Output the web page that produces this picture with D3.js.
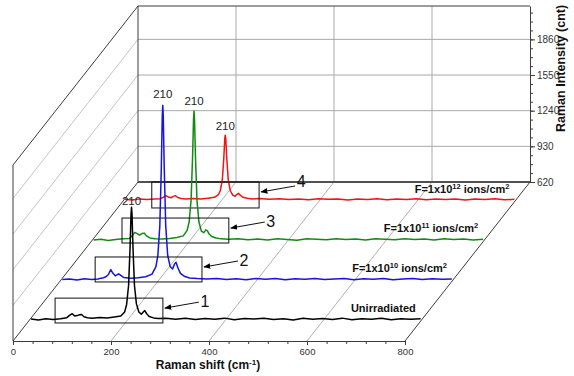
<!DOCTYPE html>
<html>
<head>
<meta charset="utf-8">
<script src="https://cdn.jsdelivr.net/npm/d3@7"></script>
<style>
  body { margin: 0; background: #fff; }
  svg { display: block; font-family: Arial, "Liberation Sans", sans-serif; }
</style>
</head>
<body>
<div id="chart"></div>
<script>
// Raman shift positions (cm-1) shared by all four spectra
const shifts = [5, 20, 35, 50, 65, 78, 84, 89, 94, 99, 104, 108, 113, 120, 130, 145, 160, 175, 188, 196,
  200, 204, 207, 209, 210, 211, 213, 216, 220, 225, 230, 234, 237, 241, 246, 255, 265, 280, 300, 320,
  340, 360, 380, 400, 420, 440, 460, 480, 500, 520, 540, 560, 580, 600, 620, 640, 660, 680, 700, 720,
  740, 760, 780, 800];

const unirradiated = [638, 630, 641, 634, 640, 650, 672, 684, 664, 668, 676, 678, 658, 650, 646, 652, 648, 656, 664, 700,
  765, 930, 1255, 1550, 1610, 1550, 1255, 930, 770, 700, 680, 700, 712, 684, 660, 648, 642, 646, 636, 644,
  634, 642, 636, 646, 632, 642, 638, 646, 634, 640, 630, 644, 636, 642, 634, 646, 632, 640, 636, 644,
  632, 640, 636, 640];

const fluence1e10 = [636, 640, 632, 642, 636, 640, 648, 652, 660, 680, 722, 692, 668, 686, 654, 648, 652, 660, 683, 749,
  847, 1105, 1605, 2060, 2150, 2060, 1605, 1105, 847, 750, 728, 770, 786, 736, 690, 662, 650, 644, 640, 646,
  636, 642, 634, 644, 638, 646, 634, 642, 638, 646, 636, 640, 644, 634, 642, 638, 646, 634, 640, 644,
  636, 642, 638, 640];

const fluence1e11 = [634, 640, 630, 638, 644, 648, 670, 700, 690, 676, 690, 694, 670, 652, 646, 642, 648, 656, 670, 718,
  791, 981, 1351, 1687, 1755, 1687, 1351, 981, 791, 712, 698, 722, 716, 686, 664, 652, 644, 640, 646, 636,
  642, 634, 644, 638, 632, 644, 640, 636, 646, 638, 642, 634, 644, 640, 636, 646, 638, 642, 634, 644,
  638, 642, 634, 640];

const fluence1e12 = [642, 636, 646, 640, 644, 648, 662, 674, 662, 656, 668, 674, 658, 650, 646, 650, 644, 652, 660, 682,
  719, 815, 1002, 1171, 1200, 1171, 1002, 815, 719, 680, 668, 686, 694, 676, 660, 652, 646, 650, 642, 648,
  640, 646, 638, 648, 642, 646, 636, 644, 640, 648, 638, 644, 640, 648, 638, 644, 640, 646, 636, 644,
  640, 648, 638, 642];

const spectra = [unirradiated, fluence1e10, fluence1e11, fluence1e12];
const fluenceExp = [null, '10', '11', '12'];
const peakShift = 210;
const peakLabel = '210';

// highlighted regions (shift range, intensity range) and their numbers
const boxShift = [[54, 274], [72, 290], [63, 281], [60, 279]];
const boxIntensity = [[604, 820], [615, 832], [608, 825], [567, 793]];
const boxNumbers = ['1', '2', '3', '4'];

const xTicks = [0, 200, 400, 600, 800];
const yTicks = [620, 930, 1240, 1550, 1860];

const colors = ['#000000', '#1414e6', '#138a13', '#f01414'];
const peakLabelGap = [2, 7, 6, 5];

const width = 574, height = 376;
const depthX = 125, depthY = -159;

const xScale = d3.scaleLinear().domain([0, 800]).range([13, 405]);
const yScale = d3.scaleLinear().domain([620, 2150]).range([341, 165]);
const zScale = d3.scaleLinear().domain([0, 4]).range([0, 1]);

const proj = (x, v, z) => [xScale(x) + zScale(z) * depthX, yScale(v) + zScale(z) * depthY];

const svg = d3.select('#chart').append('svg')
  .attr('width', width)
  .attr('height', height);

svg.append('rect').attr('width', width).attr('height', height).attr('fill', '#fff');

svg.append('defs').append('marker')
  .attr('id', 'arrow')
  .attr('viewBox', '0 0 10 10')
  .attr('refX', 9).attr('refY', 5)
  .attr('markerWidth', 7).attr('markerHeight', 7)
  .attr('markerUnits', 'userSpaceOnUse')
  .attr('orient', 'auto')
  .append('path')
  .attr('d', 'M0,1L10,5L0,9Z')
  .attr('fill', '#000');

function seg(g, a, b, color, w) {
  g.append('line')
    .attr('x1', a[0]).attr('y1', a[1])
    .attr('x2', b[0]).attr('y2', b[1])
    .attr('stroke', color)
    .attr('stroke-width', w);
}

const [yMin, yMax] = yScale.domain();
const [xMin, xMax] = xScale.domain();

//grid on the three walls
const grid = svg.append('g');
yTicks.slice(1).forEach(v => {
  seg(grid, proj(xMin, v, 4), proj(xMax, v, 4), '#a9a9a9', 1);
  seg(grid, proj(xMin, v, 0), proj(xMin, v, 4), '#b4b4b4', 0.8);
});
xTicks.slice(1, -1).forEach(x => {
  seg(grid, proj(x, yMin, 4), proj(x, yMax, 4), '#a9a9a9', 1);
  seg(grid, proj(x, yMin, 0), proj(x, yMin, 4), '#a9a9a9', 0.9);
});

//frame edges
const frame = svg.append('g');
const edge = '#3c3c3c';
seg(frame, proj(xMin, yMin, 4), proj(xMin, yMax, 4), edge, 1);
seg(frame, proj(xMin, yMax, 4), proj(xMax, yMax, 4), edge, 1);
seg(frame, proj(xMin, yMin, 4), proj(xMax, yMin, 4), '#505050', 2);
seg(frame, proj(xMin, yMin, 0), proj(xMin, yMax, 0), edge, 1);
seg(frame, proj(xMin, yMax, 0), proj(xMin, yMax, 4), edge, 1);
seg(frame, proj(xMin, yMin, 0), proj(xMin, yMin, 4), edge, 1);
seg(frame, proj(xMax, yMin, 0), proj(xMax, yMin, 4), edge, 1);

//x axis on the front edge
const xAxisG = svg.append('g').attr('transform', `translate(0,${yScale(yMin)})`);
xAxisG.append('g')
  .call(d3.axisBottom(xScale).tickValues(d3.range(0, 801, 40)).tickSize(3).tickFormat(''))
  .call(g => g.select('.domain').remove());
xAxisG.append('g')
  .call(d3.axisBottom(xScale).tickValues(xTicks).tickSize(4).tickSizeOuter(0).tickPadding(3).tickFormat(d3.format('d')))
  .call(g => g.select('.domain').attr('stroke', edge));
xAxisG.selectAll('line').attr('stroke', edge);
xAxisG.selectAll('text').attr('fill', '#333').style('font-size', '9.5px');

const xTitle = svg.append('text')
  .attr('x', 208).attr('y', 369)
  .attr('text-anchor', 'middle')
  .style('font-size', '12px').style('font-weight', 'bold')
  .attr('fill', '#111');
xTitle.append('tspan').text('Raman shift (cm');
xTitle.append('tspan').attr('dy', -4).style('font-size', '8px').text('-1');
xTitle.append('tspan').attr('dy', 4).text(')');

//intensity axis on the back right edge
const yAxisG = svg.append('g')
  .attr('transform', `translate(${xScale(xMax) + depthX},${depthY})`);
yAxisG.append('g')
  .call(d3.axisRight(yScale).tickValues(d3.range(620, 2151, 77.5)).tickSize(3).tickFormat(''))
  .call(g => g.select('.domain').remove());
yAxisG.append('g')
  .call(d3.axisRight(yScale).tickValues(yTicks).tickSize(5).tickSizeOuter(0).tickPadding(2).tickFormat(d3.format('d')))
  .call(g => g.select('.domain').attr('stroke', edge));
yAxisG.selectAll('line').attr('stroke', edge);
yAxisG.selectAll('text').attr('fill', '#333').style('font-size', '10px');

svg.append('text')
  .attr('transform', 'translate(565,132) rotate(-90)')
  .attr('text-anchor', 'start')
  .style('font-size', '12.5px').style('font-weight', 'bold')
  .attr('fill', '#111')
  .text('Raman Intensity (cnt)');

//spectra, back to front
const line = d3.line();
d3.range(spectra.length).reverse().forEach(i => {
  const z = i + 0.5;
  const vals = spectra[i];
  const g = svg.append('g');

  g.append('path')
    .datum(shifts.map((s, k) => proj(s, vals[k], z)))
    .attr('d', line)
    .attr('fill', 'none')
    .attr('stroke', colors[i])
    .attr('stroke-width', 1.5)
    .attr('stroke-linejoin', 'round');

  //box around the low frequency modes
  const p0 = proj(boxShift[i][0], boxIntensity[i][1], z);
  const p1 = proj(boxShift[i][1], boxIntensity[i][0], z);
  g.append('rect')
    .attr('x', p0[0]).attr('y', p0[1])
    .attr('width', p1[0] - p0[0]).attr('height', p1[1] - p0[1])
    .attr('fill', 'none')
    .attr('stroke', '#111')
    .attr('stroke-width', 1);

  const tip = [p1[0] + 2, p0[1] + 10];
  g.append('line')
    .attr('x1', tip[0] + 34).attr('y1', tip[1] - 6)
    .attr('x2', tip[0]).attr('y2', tip[1])
    .attr('stroke', '#111').attr('stroke-width', 1)
    .attr('marker-end', 'url(#arrow)');
  g.append('text')
    .attr('x', tip[0] + 40).attr('y', tip[1] - 1 - (i === 3 ? 4 : 0))
    .attr('text-anchor', 'middle')
    .style('font-size', '16px')
    .attr('fill', '#111')
    .text(boxNumbers[i]);

  //peak label
  const top = proj(peakShift, d3.max(vals), z);
  g.append('text')
    .attr('x', top[0]).attr('y', top[1] - peakLabelGap[i])
    .attr('text-anchor', 'middle')
    .style('font-size', '11.5px')
    .attr('fill', '#222')
    .text(peakLabel);

  //series label
  const lp = proj(790, 700, z);
  const t = g.append('text')
    .attr('x', lp[0]).attr('y', lp[1])
    .attr('text-anchor', 'end')
    .style('font-size', '11px').style('font-weight', 'bold')
    .attr('fill', '#111');
  if (fluenceExp[i] === null) {
    t.text('Unirradiated');
  } else {
    t.append('tspan').text('F=1x10');
    t.append('tspan').attr('dy', -4).style('font-size', '7.5px').text(fluenceExp[i]);
    t.append('tspan').attr('dy', 4).text(' ions/cm');
    t.append('tspan').attr('dy', -4).style('font-size', '7.5px').text('2');
  }
});
</script>
</body>
</html>
